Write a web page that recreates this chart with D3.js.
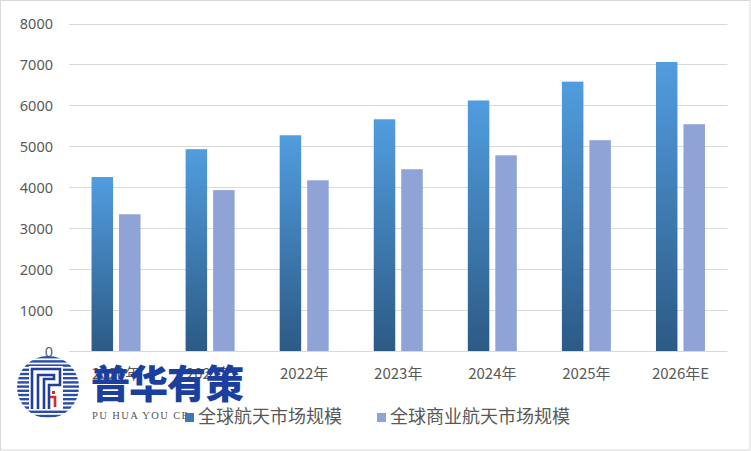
<!DOCTYPE html>
<html><head><meta charset="utf-8">
<script src="https://cdn.jsdelivr.net/npm/d3@7/dist/d3.min.js"></script>
<style>
html,body{margin:0;padding:0;background:#fff;}
svg{display:block;font-family:"Noto Sans CJK SC","Microsoft YaHei",sans-serif;}
</style></head><body>
<script>
const categories = ["2020年","2021年","2022年","2023年","2024年","2025年","2026年E"];
const seriesNames = ["全球航天市场规模","全球商业航天市场规模"];
const globalSpace = [4250,4930,5270,5660,6120,6580,7060];
const commercialSpace = [3340,3930,4170,4440,4780,5150,5540];
const yTicks = [0,1000,2000,3000,4000,5000,6000,7000,8000];

const W=751,H=451;
const svg=d3.select("body").append("svg").attr("width",W).attr("height",H);
const defs=svg.append("defs");
const grad=defs.append("linearGradient").attr("id","gBlue").attr("x1",0).attr("x2",0).attr("y1",0).attr("y2",1);
grad.append("stop").attr("offset","0%").attr("stop-color","#519ddf");
grad.append("stop").attr("offset","100%").attr("stop-color","#2c5a85");

svg.append("rect").attr("x",0.5).attr("y",0.5).attr("width",W-1.5).attr("height",H-1.5)
  .attr("fill","#fff").attr("stroke","#d9d9d9");

const x=d3.scaleBand().domain(categories).range([69,727.5]);
const y=d3.scaleLinear().domain([0,8000]).range([351,23.5]);

// gridlines
svg.append("g").selectAll("line").data(yTicks).join("line")
  .attr("x1",69).attr("x2",727.5).attr("y1",d=>Math.round(y(d))+0.5).attr("y2",d=>Math.round(y(d))+0.5)
  .attr("stroke","#d9d9d9").attr("stroke-width",1);

// y axis labels
const yAxis=d3.axisLeft(y).tickValues(yTicks).tickFormat(d3.format("d")).tickSize(0).tickPadding(0);
const gy=svg.append("g").attr("transform","translate(53,0)").call(yAxis);
gy.select(".domain").remove();
gy.selectAll("text").attr("fill","#595959").style("font-size","14.5px").style("font-family","'Noto Sans','DejaVu Sans',sans-serif").attr("dy","0.35em");

// x axis labels
const xAxis=d3.axisBottom(x).tickSize(0).tickPadding(0);
const gx=svg.append("g").attr("transform","translate(0,368)").call(xAxis);
gx.select(".domain").remove();
gx.selectAll("text").attr("fill","#595959").style("font-size","15px").style("font-family","'Noto Sans CJK SC',sans-serif").attr("dy","0.7em");

const bw=21.5, gap=3;
svg.append("g").selectAll("rect").data(globalSpace).join("rect")
  .attr("x",(d,i)=>x(categories[i])+x.bandwidth()/2-gap-bw)
  .attr("y",d=>y(d)).attr("width",bw).attr("height",d=>y(0)-y(d))
  .attr("fill","url(#gBlue)");
svg.append("g").selectAll("rect").data(commercialSpace).join("rect")
  .attr("x",(d,i)=>x(categories[i])+x.bandwidth()/2+gap)
  .attr("y",d=>y(d)).attr("width",bw).attr("height",d=>y(0)-y(d))
  .attr("fill","#8fa3d6");

// logo overlay
const logo=svg.append("g");
const cx=48,cy=387,r=31;
const clip=defs.append("clipPath").attr("id","circ");
clip.append("circle").attr("cx",cx).attr("cy",cy).attr("r",r);
logo.append("circle").attr("cx",cx).attr("cy",cy).attr("r",r).attr("fill","#fff");
const stripes=logo.append("g").attr("clip-path","url(#circ)");
for(let yy=cy-r;yy<cy+r;yy+=4.2){
  stripes.append("rect").attr("x",cx-r).attr("y",yy).attr("width",2*r).attr("height",2.4).attr("fill","#2a4da6");
}
logo.append("rect").attr("x",cx-19).attr("y",cy-21).attr("width",34).attr("height",44).attr("fill","#fff");
const P=logo.append("g").attr("fill","none").attr("stroke","#1f3f9a").attr("stroke-width",2.6);
P.append("path").attr("d",`M${cx-16},${cy+22} V${cy-18} H${cx+12} V${cy-2} H${cx+1} V${cy+22}`);
P.append("path").attr("d",`M${cx-10},${cy+22} V${cy-12} H${cx+6} V${cy-8} H${cx-4} V${cy+22}`);
logo.append("rect").attr("x",cx+4).attr("y",cy+4).attr("width",3).attr("height",3).attr("fill","#d42a2a");
logo.append("path").attr("d",`M${cx+2},${cy+10} H${cx+7} V${cy+20}`).attr("fill","none").attr("stroke","#d42a2a").attr("stroke-width",2.6);

logo.append("text").attr("x",91).attr("y",398).attr("fill","#1b3f9f")
  .style("font-size","39px").style("font-weight","900").style("letter-spacing","-1px").text("普华有策");
logo.append("text").attr("x",92).attr("y",419).attr("fill","#555")
  .style("font-size","10.5px").style("font-family","'Liberation Serif','DejaVu Serif',serif")
  .attr("textLength",96).text("PU HUA YOU CE");

// legend
const leg=svg.append("g").attr("transform","translate(0,417)");
const legItems=[{x:185,c:"#3b78b8",t:seriesNames[0]},{x:377,c:"#8fa3d6",t:seriesNames[1]}];
legItems.forEach(it=>{
  leg.append("rect").attr("x",it.x).attr("y",-4).attr("width",9).attr("height",9).attr("fill",it.c);
  leg.append("text").attr("x",it.x+13).attr("y",0).attr("dy","0.35em").attr("fill","#595959")
    .style("font-size","18px").text(it.t);
});
</script>
</body></html>
